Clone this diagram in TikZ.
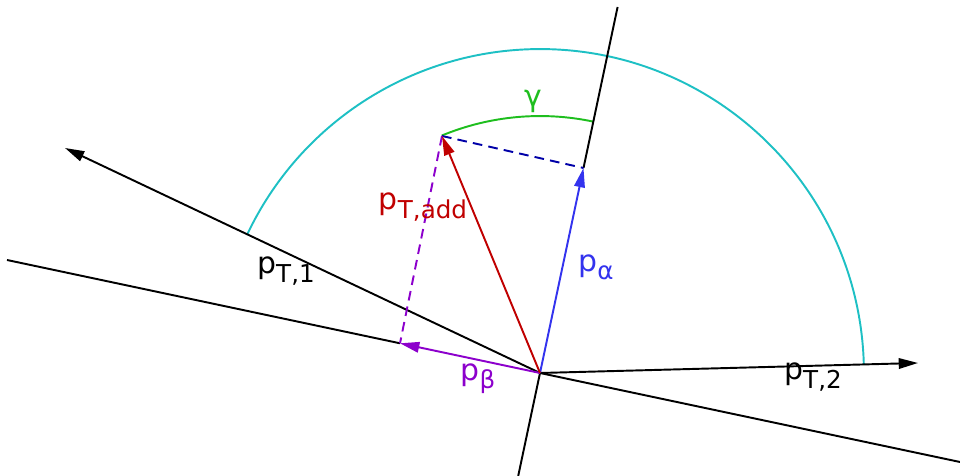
\documentclass[tikz,border=0pt]{standalone}
\usepackage{fontspec}
\setmainfont{DejaVu Sans}
\usetikzlibrary{arrows.meta,calc}
\definecolor{pcyan}{HTML}{1EC0C4}
\definecolor{pgreen}{HTML}{1EBE1E}
\definecolor{pblue}{HTML}{3333EE}
\definecolor{pnavy}{HTML}{0000A8}
\definecolor{pred}{HTML}{C00000}
\definecolor{ppurple}{HTML}{8C00CC}
\newcommand{\mom}[2]{p\raisebox{-0.5ex}{\fontsize{14}{14}\selectfont #2}}

\begin{document}
\begin{tikzpicture}[x=0.02cm,y=0.02cm,
  axis/.style={line width=1.1pt, draw=black},
  vec/.style={line width=1.1pt, -{Triangle[length=11pt,width=6pt]}},
  proj/.style={line width=1.1pt, dashed, dash pattern=on 5.5pt off 3.5pt},
  lab/.style={font=\fontsize{17}{17}\selectfont, inner sep=0pt}
]
  \useasboundingbox (0,0) rectangle (960,476);
  % points
  \coordinate (O)    at (540,103);
  \coordinate (La)   at (7,216);
  \coordinate (Lb)   at (960,14);
  \coordinate (Pa)   at (518.2,0);
  \coordinate (Pb)   at (617.6,469);
  \coordinate (T1)   at (65,328);
  \coordinate (T2)   at (918,113);
  \coordinate (Alp)  at (583.5,308);
  \coordinate (Bet)  at (400,132.7);
  \coordinate (Add)  at (442,340);
  % arcs
  \draw[pcyan, line width=1.1pt] (O) ++(1.5:6.48cm) arc[start angle=1.5, end angle=154.6, radius=6.48cm];
  \draw[pgreen, line width=1.1pt] (O) ++(78:5.14cm) arc[start angle=78, end angle=112.5, radius=5.14cm];
  % lines
  \draw[axis] (La) -- (Bet);
  \draw[axis] (O) -- (Lb);
  \draw[axis] (Pa) -- (O);
  \draw[axis] (Alp) -- (Pb);
  \draw[vec] (O) -- (T1);
  \draw[vec] (O) -- (T2);
  \draw[proj, pnavy] (Add) -- (Alp);
  \draw[proj, ppurple] (Add) -- (Bet);
  \draw[vec, pblue] (O) -- (Alp);
  \draw[vec, ppurple] (O) -- (Bet);
  \draw[vec, pred] (O) -- (Add);
  % labels
  \node[lab] (lT1)  at (286,205) {\mom{p}{T,1}};
  \node[lab] (lT2)  at (813,99)  {\mom{p}{T,2}};
  \node[lab, pblue] (lA) at (596,209) {\mom{p}{α}};
  \node[lab, ppurple] (lB) at (478,97) {\mom{p}{β}};
  \node[lab, pred] (lAdd) at (423,269) {\mom{p}{T,add}};
  \node[lab, pgreen] (lG) at (533,375) {γ};
\end{tikzpicture}
\end{document}
